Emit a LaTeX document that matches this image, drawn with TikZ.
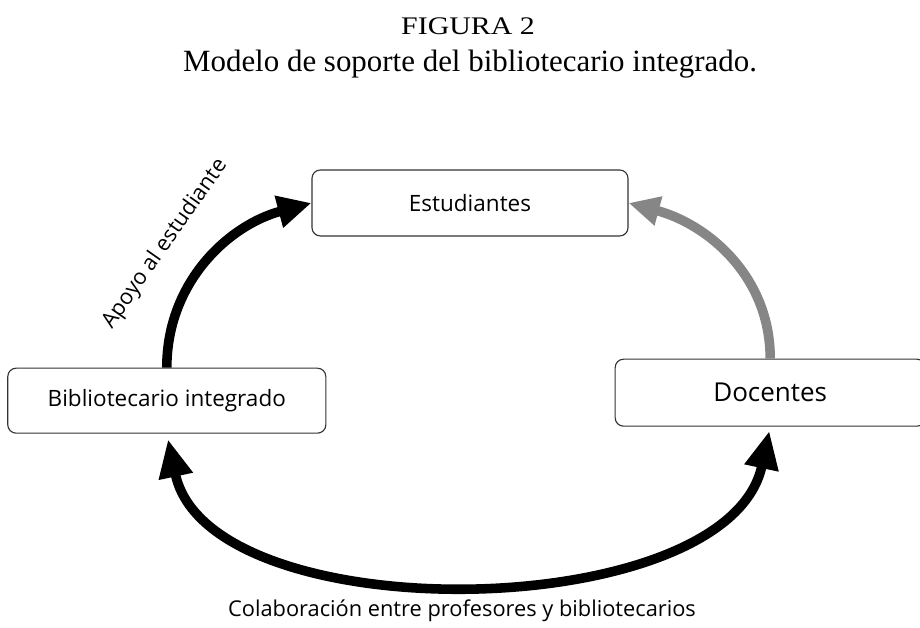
\documentclass[tikz,border=0pt]{standalone}
\usepackage{fontspec}
\setmainfont{Liberation Serif}
\setsansfont{Open Sans}
\usepackage{xcolor}
\usepackage{tikz}
\usetikzlibrary{positioning,arrows.meta}

\begin{document}
\begin{tikzpicture}[
    x=0.025cm, y=0.025cm,
    caption/.style={font=\fontsize{18}{20}\selectfont, anchor=base, xscale=1.18, transform shape},
    subcaption/.style={font=\fontsize{22}{24}\selectfont, anchor=base},
    box/.style={rectangle, draw=black!80, line width=0.8pt, rounded corners=6pt, fill=white, align=center, font=\sffamily\fontsize{16}{18}\selectfont},
    box_est/.style={box, minimum width=7.9cm, minimum height=1.65cm},
    box_bib/.style={box, minimum width=7.95cm, minimum height=1.625cm},
    box_doc/.style={box, minimum width=7.75cm, minimum height=1.675cm, font=\sffamily\fontsize{18.5}{20}\selectfont},
    flow/.style={line width=6.8pt, -{Triangle[length=24pt, width=22pt]}},
    flow_gray/.style={flow, draw=gray!95, -{Triangle[length=22pt, width=20pt]}},
    flow_both/.style={line width=6.8pt, {Triangle[length=27pt, width=23pt]}-{Triangle[length=27pt, width=23pt]}},
    tag/.style={font=\sffamily\fontsize{15.5}{17}\selectfont},
]
\useasboundingbox (0,0) rectangle (920,628);
\node[caption] (fig) at (468,593) {FIGURA 2};
\node[subcaption] (title) at (470,556) {Modelo de soporte del bibliotecario integrado.};
% the three actors
\node[box_est] (est) at (470,425) {Estudiantes};
\node[box_bib, below left=3.275cm and -0.375cm of est] (bib) {Bibliotecario integrado};
\node[box_doc, below right=3.05cm and -0.35cm of est] (doc) {Docentes};
% connectors
\draw[flow] (bib.north) to[out=90, in=195] (est.west);
\draw[flow_gray] (doc.north) to[out=90, in=-15] (est.east);
\draw[flow_both, shorten <=4pt, shorten >=3pt] (bib.south) to[out=-78, in=-102, looseness=0.86] (doc.south);
% labels
\node[tag, rotate=55] (apoyo) at (165,384) {Apoyo al estudiante};
\node[tag, anchor=base] (colab) at (462,11) {Colaboración entre profesores y bibliotecarios};
\end{tikzpicture}
\end{document}
